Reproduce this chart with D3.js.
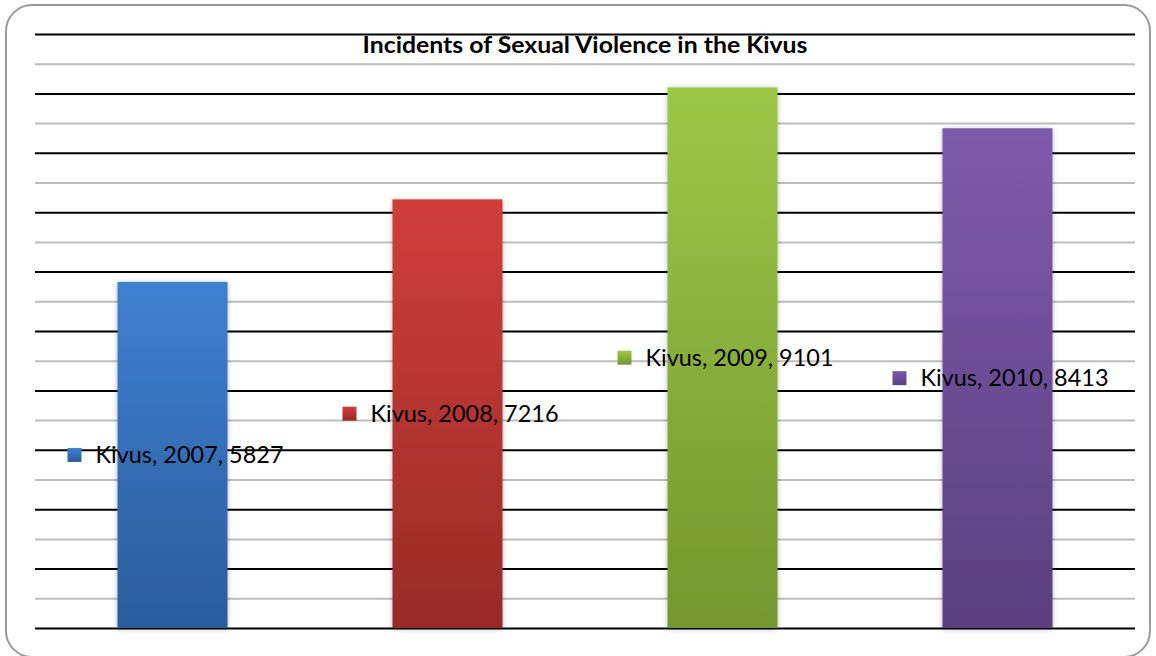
<!DOCTYPE html>
<html>
<head>
<meta charset="utf-8">
<script src="https://cdn.jsdelivr.net/npm/d3@7"></script>
<style>
  html, body { margin: 0; padding: 0; background: #fff; }
  svg { display: block; }
</style>
</head>
<body>
<div id="chart"></div>
<script>
// chart data
const chartTitle = 'Incidents of Sexual Violence in the Kivus';
const region = 'Kivus';
const years = ['2007', '2008', '2009', '2010'];
const incidents = [5827, 7216, 9101, 8413];
const yMax = 10000;
const gridStep = 500;
const topColors = ['#3f80d0', '#d03e3b', '#9dc748', '#7e5aab'];
const bottomColors = ['#2b5c9c', '#982b28', '#74962f', '#5a407f'];

const W = 1156, H = 656;
const margin = {top: 34, right: 21, bottom: 28, left: 35};
const width = W - margin.left - margin.right;
const height = H - margin.top - margin.bottom;

const root = d3.select('#chart').append('svg')
  .attr('width', W)
  .attr('height', H);

const defs = root.append('defs');
years.forEach((yr, i) => {
  const g = defs.append('linearGradient')
    .attr('id', 'grad' + i)
    .attr('x1', 0).attr('y1', 0).attr('x2', 0).attr('y2', 1);
  g.append('stop').attr('offset', '0%').attr('stop-color', topColors[i]);
  g.append('stop').attr('offset', '100%').attr('stop-color', bottomColors[i]);
});
const shadow = defs.append('filter').attr('id', 'shadow')
  .attr('x', '-20%').attr('y', '-5%').attr('width', '140%').attr('height', '110%');
shadow.append('feDropShadow')
  .attr('dx', 0).attr('dy', 1).attr('stdDeviation', 2.5)
  .attr('flood-color', '#000').attr('flood-opacity', 0.3);

// outer rounded frame
root.append('rect')
  .attr('x', 6).attr('y', 5)
  .attr('width', 1144).attr('height', 652)
  .attr('rx', 26).attr('ry', 26)
  .attr('fill', 'none')
  .attr('stroke', '#9a9a9a')
  .attr('stroke-width', 2);

const svg = root.append('g')
  .attr('transform', `translate(${margin.left},${margin.top})`);

const x = d3.scaleBand().domain(years).range([0, width]).paddingInner(0.6).paddingOuter(0.3);
const y = d3.scaleLinear().domain([0, yMax]).range([height, 0]);

// gridlines
const grid = svg.append('g')
  .call(d3.axisLeft(y)
    .tickValues(d3.range(0, yMax + 1, gridStep))
    .tickSize(-width)
    .tickFormat(''));
grid.select('.domain').remove();
grid.selectAll('.tick line')
  .attr('stroke', d => d % 1000 === 0 ? '#000' : '#bdbdbd')
  .attr('stroke-width', 2);

// bars
svg.selectAll('.bar')
  .data(incidents)
  .enter().append('rect')
  .attr('class', 'bar')
  .attr('x', (d, i) => x(years[i]))
  .attr('y', d => y(d))
  .attr('width', x.bandwidth())
  .attr('height', d => height - y(d))
  .attr('fill', (d, i) => `url(#grad${i})`)
  .attr('filter', 'url(#shadow)');

// title
root.append('text')
  .attr('x', margin.left + width / 2)
  .attr('y', 53)
  .attr('text-anchor', 'middle')
  .attr('font-family', 'Lato, sans-serif')
  .attr('font-weight', 'bold')
  .attr('font-size', 22)
  .attr('textLength', 445)
  .attr('lengthAdjust', 'spacingAndGlyphs')
  .attr('fill', '#000')
  .text(chartTitle);

// data labels with legend keys
const textW = 188, keySize = 14, keyGap = 14;
const labels = svg.selectAll('.label')
  .data(incidents)
  .enter().append('g')
  .attr('class', 'label')
  .attr('transform', (d, i) => `translate(${x(years[i]) + x.bandwidth() / 2 + 3},${y(d / 2)})`);

const groupW = keySize + keyGap + textW;
labels.append('rect')
  .attr('x', -groupW / 2)
  .attr('y', -keySize / 2)
  .attr('width', keySize)
  .attr('height', keySize)
  .attr('fill', (d, i) => `url(#grad${i})`);

labels.append('text')
  .attr('x', -groupW / 2 + keySize + keyGap)
  .attr('dy', '0.36em')
  .attr('font-family', 'Lato, sans-serif')
  .attr('font-size', 23)
  .attr('textLength', textW)
  .attr('lengthAdjust', 'spacingAndGlyphs')
  .attr('fill', '#000')
  .text((d, i) => `${region}, ${years[i]}, ${d}`);
</script>
</body>
</html>
